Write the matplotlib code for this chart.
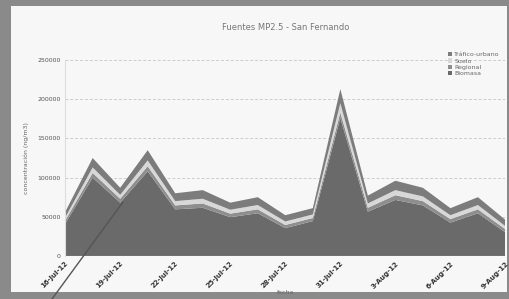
import matplotlib
matplotlib.use("Agg")
import matplotlib.pyplot as plt
from matplotlib.patches import Rectangle
from matplotlib.lines import Line2D
import numpy as np

title = "Fuentes MP2.5 - San Fernando"
series_names = ["Biomasa", "Regional", "Suelo", "Tráfico-urbano"]
tick_labels = ["16-Jul-12", "19-Jul-12", "22-Jul-12", "25-Jul-12", "28-Jul-12",
               "31-Jul-12", "3-Aug-12", "6-Aug-12", "9-Aug-12"]

total = [56000, 125000, 87000, 135000, 80000, 84000, 68000, 75000, 52000,
         61000, 213000, 77000, 96000, 87000, 61000, 75000, 46000]
trafico = [7000, 12000, 9000, 13000, 10000, 11000, 9000, 10000, 8000,
           8000, 18000, 10000, 12000, 11000, 9000, 10000, 8000]
suelo = [4000, 7000, 5000, 7500, 5500, 6000, 5000, 5500, 4500,
         4500, 12000, 5500, 6500, 6000, 5000, 5500, 4000]
regional = [4000, 6000, 5000, 6500, 5000, 5500, 4500, 5000, 4000,
            4000, 7000, 5000, 6000, 5500, 4500, 5000, 4000]
biomasa = [t - a - b - c for t, a, b, c in zip(total, trafico, suelo, regional)]

colors = ["#6a6a6a", "#8e8e8e", "#d8d8d8", "#7c7c7c"]

fig = plt.figure(figsize=(5.09, 2.99), dpi=100, facecolor="#8a8a8a")
bg = Rectangle((0.022, 0.025), 0.975, 0.955, transform=fig.transFigure,
               facecolor="#f7f7f7", edgecolor="none", zorder=-10)
fig.add_artist(bg)

ax = fig.add_axes([0.128, 0.144, 0.865, 0.655])
ax.set_facecolor("#f7f7f7")
x = np.arange(len(total))
ax.stackplot(x, biomasa, regional, suelo, trafico, colors=colors,
             labels=series_names, linewidth=0, zorder=2)

ax.set_xlim(0, len(total) - 1)
ax.set_ylim(0, 250000)
ax.set_yticks(np.arange(0, 250001, 50000))
ax.set_yticklabels([str(v) for v in range(0, 250001, 50000)], fontsize=4.5, color="#555555")
ax.set_xticks(x[::2])
ax.set_xticklabels(tick_labels, rotation=45, ha="right", rotation_mode="anchor",
                   fontsize=5, color="#333333", fontweight="bold")
ax.tick_params(length=0, pad=3)
ax.grid(axis="y", color="#cccccc", linestyle=(0, (3, 2)), linewidth=0.7, zorder=1)
for s in ["top", "right", "bottom"]:
    ax.spines[s].set_visible(False)
ax.spines["left"].set_color("#dddddd")

ax.set_title(title, fontsize=6, color="#777777", pad=22)
ax.set_ylabel("concentración (ng/m3)", fontsize=4.5, color="#666666", labelpad=6)
ax.set_xlabel("fecha", fontsize=4.5, color="#666666", labelpad=0)

handles, labels = ax.get_legend_handles_labels()
leg = ax.legend(handles[::-1], labels[::-1], loc="upper right", bbox_to_anchor=(1.0, 1.07),
                fontsize=4.5, frameon=False, handlelength=0.7, handleheight=0.7,
                labelspacing=0.15, handletextpad=0.3)
for t in leg.get_texts():
    t.set_color("#666666")

fig.add_artist(Line2D([52 / 509, 123 / 509], [1 - 299 / 299, 1 - 202 / 299],
                      transform=fig.transFigure, color="#555555", linewidth=1.0, zorder=5))

fig.savefig("out.png", dpi=100, facecolor=fig.get_facecolor())
